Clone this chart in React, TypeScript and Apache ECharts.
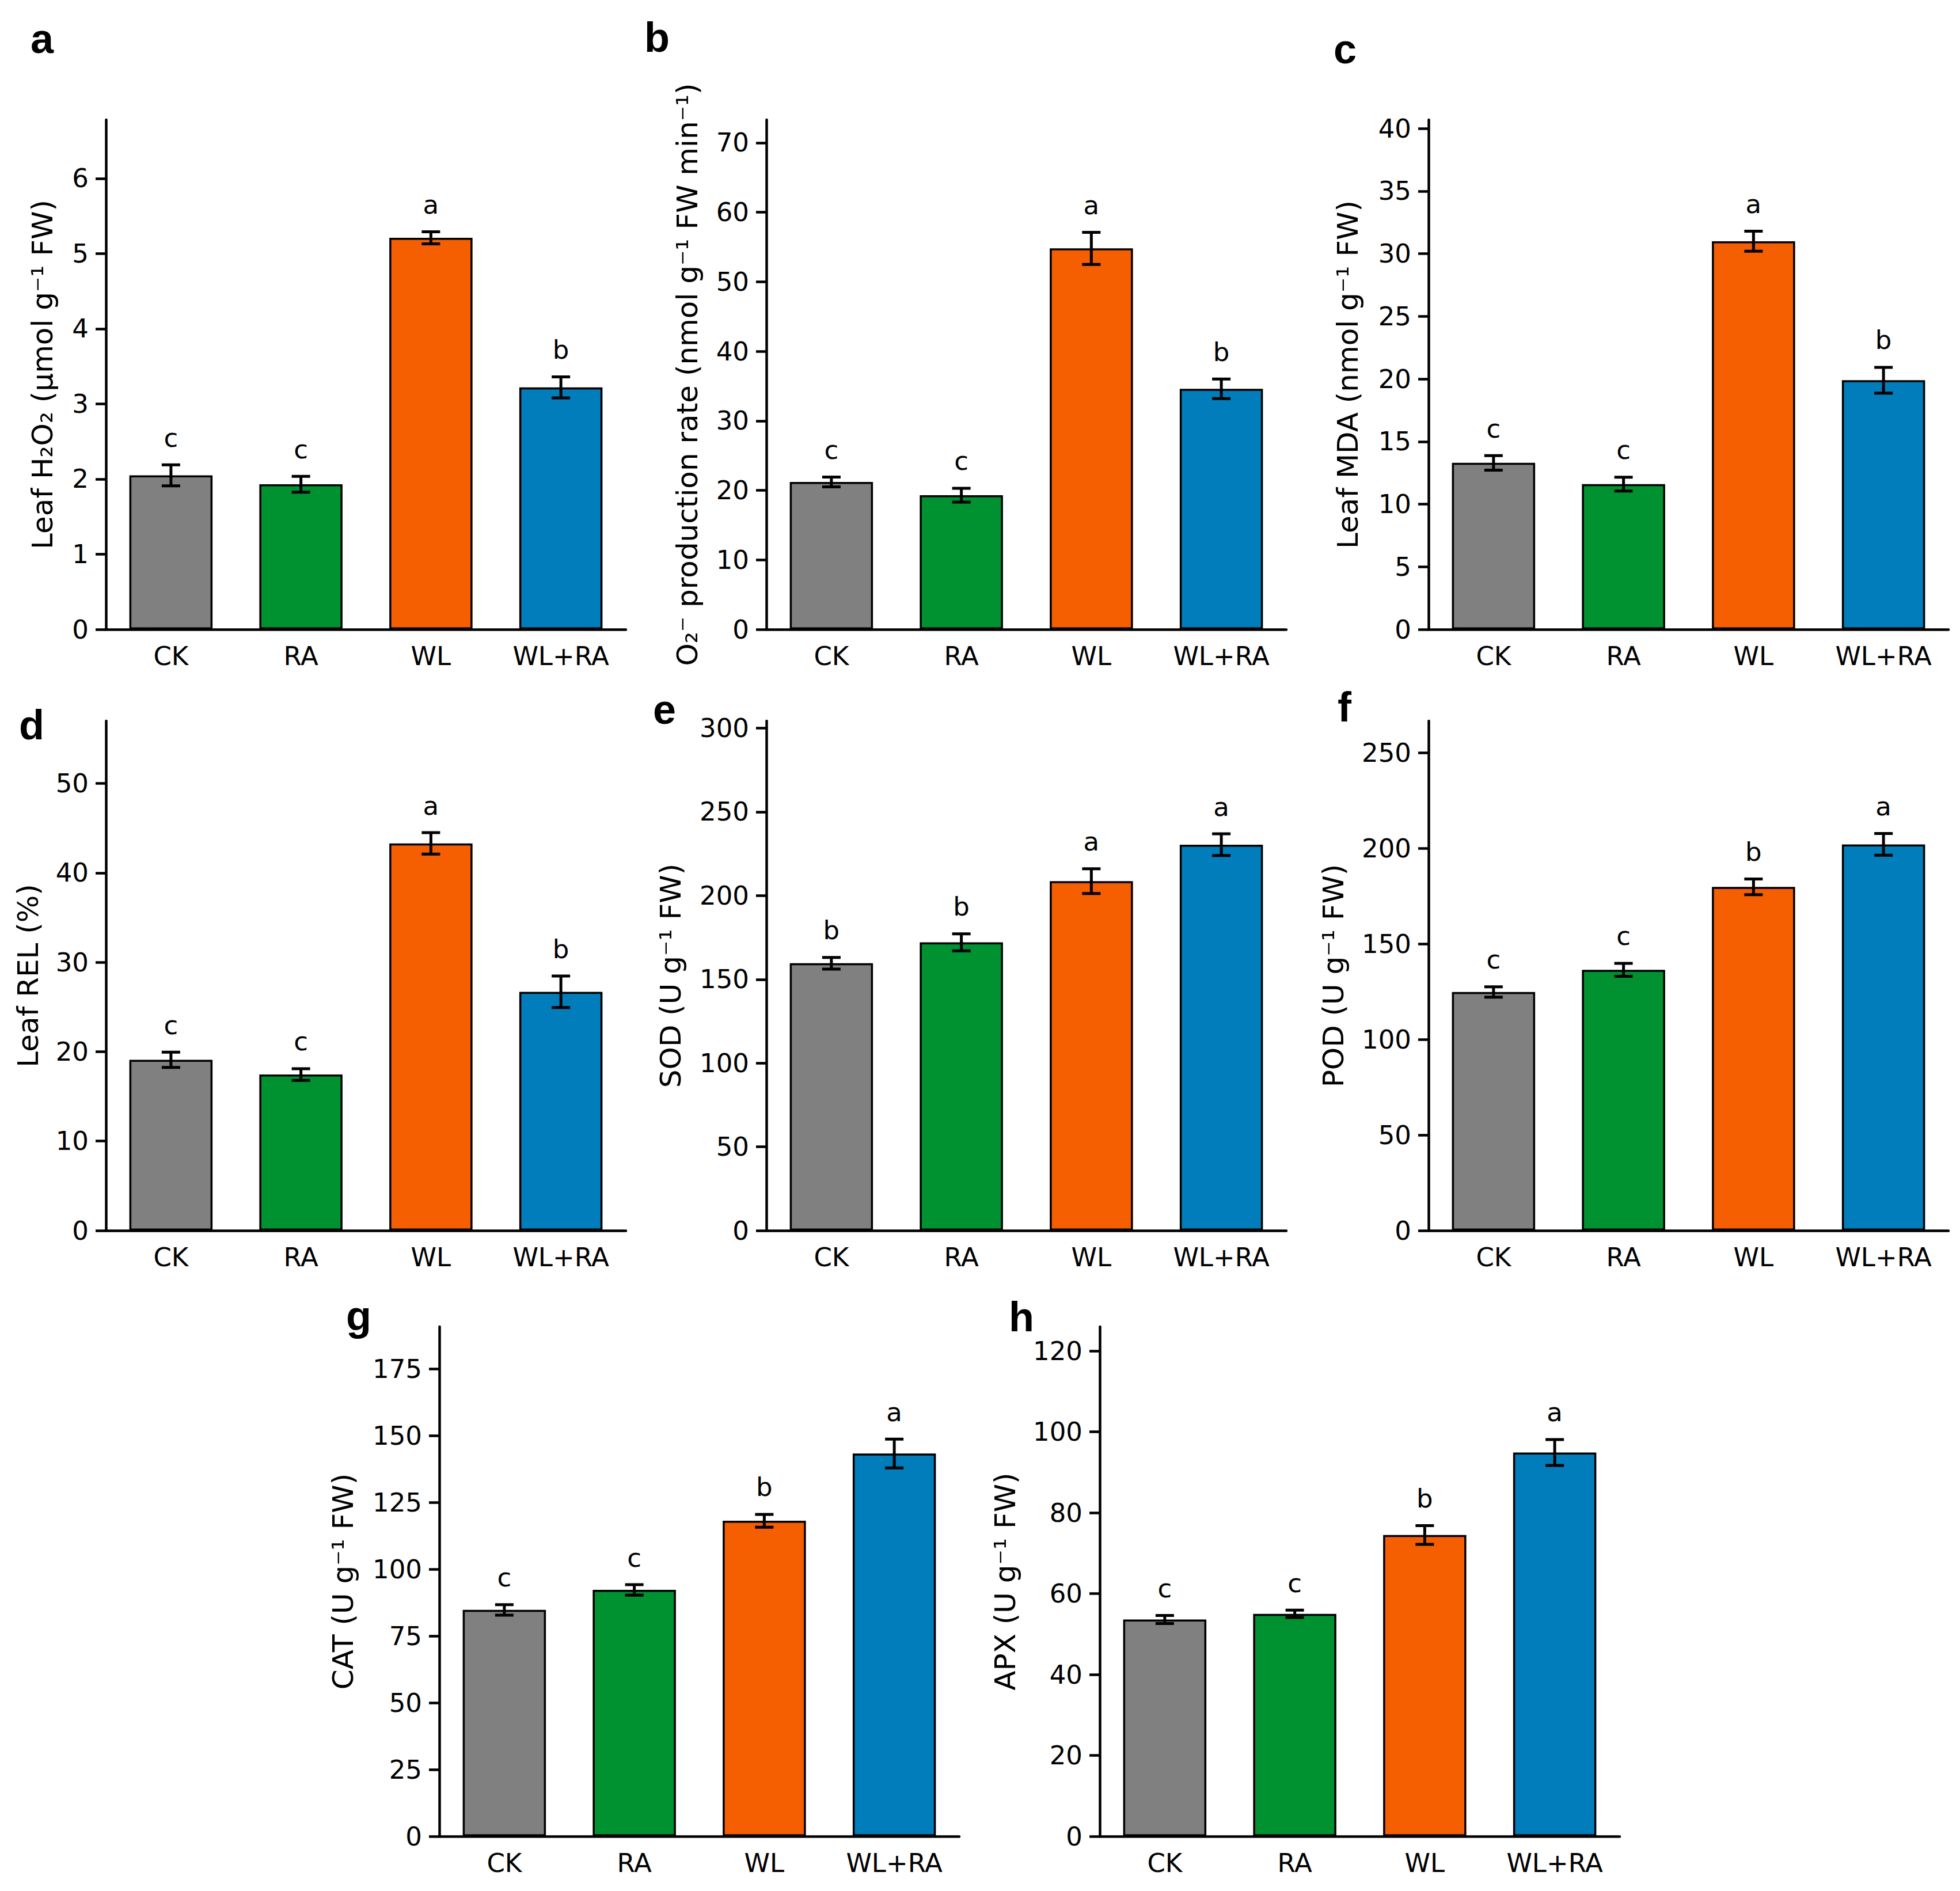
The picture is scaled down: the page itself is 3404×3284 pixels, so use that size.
import React, { useEffect, useRef } from "react";
import * as echarts from "echarts";

// ---------- data ----------
const categories = ["CK", "RA", "WL", "WL+RA"];
const barColors = ["#808080", "#009130", "#f65e02", "#007dba"];

const h2o2Mean = [2.05, 1.93, 5.21, 3.22];
const h2o2Err = [0.14, 0.105, 0.08, 0.14];
const h2o2Sig = ["c", "c", "a", "b"];
const h2o2Ticks = [0, 1, 2, 3, 4, 5, 6];

const o2Mean = [21.2, 19.3, 54.8, 34.6];
const o2Err = [0.7, 1.0, 2.3, 1.4];
const o2Sig = ["c", "c", "a", "b"];
const o2Ticks = [0, 10, 20, 30, 40, 50, 60, 70];

const mdaMean = [13.3, 11.6, 31.0, 19.9];
const mdaErr = [0.58, 0.55, 0.8, 1.03];
const mdaSig = ["c", "c", "a", "b"];
const mdaTicks = [0, 5, 10, 15, 20, 25, 30, 35, 40];

const relMean = [19.1, 17.45, 43.3, 26.7];
const relErr = [0.85, 0.65, 1.2, 1.76];
const relSig = ["c", "c", "a", "b"];
const relTicks = [0, 10, 20, 30, 40, 50];

const sodMean = [159.6, 172.1, 208.6, 230.4];
const sodErr = [3.5, 5.1, 7.4, 6.5];
const sodSig = ["b", "b", "a", "a"];
const sodTicks = [0, 50, 100, 150, 200, 250, 300];

const podMean = [124.8, 136.4, 179.8, 202.0];
const podErr = [2.7, 3.4, 4.1, 5.7];
const podSig = ["c", "c", "b", "a"];
const podTicks = [0, 50, 100, 150, 200, 250];

const catMean = [84.8, 92.3, 118.2, 143.4];
const catErr = [1.95, 1.95, 2.4, 5.4];
const catSig = ["c", "c", "b", "a"];
const catTicks = [0, 25, 50, 75, 100, 125, 150, 175];

const apxMean = [53.6, 55.0, 74.5, 94.9];
const apxErr = [1.0, 0.9, 2.3, 3.2];
const apxSig = ["c", "c", "b", "a"];
const apxTicks = [0, 20, 40, 60, 80, 100, 120];

const yMaxes = [6.78, 73.3, 40.7, 57.0, 304.3, 266.6, 190.9, 126.0];

const panelLetters = ["a", "b", "c", "d", "e", "f", "g", "h"];
const yTitles = [
  "Leaf H₂O₂ (μmol g⁻¹ FW)",
  "O₂⁻ production rate (nmol g⁻¹ FW min⁻¹)",
  "Leaf MDA (nmol g⁻¹ FW)",
  "Leaf REL (%)",
  "SOD (U g⁻¹ FW)",
  "POD (U g⁻¹ FW)",
  "CAT (U g⁻¹ FW)",
  "APX (U g⁻¹ FW)",
];

const means = [h2o2Mean, o2Mean, mdaMean, relMean, sodMean, podMean, catMean, apxMean];
const errs = [h2o2Err, o2Err, mdaErr, relErr, sodErr, podErr, catErr, apxErr];
const sigs = [h2o2Sig, o2Sig, mdaSig, relSig, sodSig, podSig, catSig, apxSig];
const ticks = [h2o2Ticks, o2Ticks, mdaTicks, relTicks, sodTicks, podTicks, catTicks, apxTicks];

// ---------- layout ----------
const W = 3404;
const H = 3284;
const gridLeft = [184, 1331, 2481, 184, 1331, 2481, 763, 1910];
const gridTop = [208, 208, 208, 1252, 1252, 1252, 2304, 2304];
const gridW = 903;
const gridH = 885;
const nameGaps = [85, 112, 115, 110, 141, 140, 142, 139];
const letterPos = [
  [53, 92], [1119, 90], [2316, 110],
  [33, 1284], [1134, 1257], [2323, 1253],
  [601, 2310], [1752, 2312],
];

const FONT = "DejaVu Sans";
const AXIS_W = 4.5;

function buildOption() {
  const grid: any[] = [];
  const xAxis: any[] = [];
  const yAxis: any[] = [];
  const series: any[] = [];
  const graphic: any[] = [];

  for (let p = 0; p < 8; p++) {
    grid.push({ left: gridLeft[p], top: gridTop[p], width: gridW, height: gridH, containLabel: false });
    xAxis.push({
      type: "category",
      gridIndex: p,
      data: categories,
      axisLine: { lineStyle: { color: "#000", width: AXIS_W } },
      axisTick: { alignWithLabel: true, length: 18, lineStyle: { color: "#000", width: AXIS_W } },
      axisLabel: { color: "#000", fontSize: 45, fontFamily: FONT, margin: 24 },
      splitLine: { show: false },
    });
    yAxis.push({
      type: "value",
      gridIndex: p,
      min: 0,
      max: yMaxes[p],
      name: yTitles[p],
      nameLocation: "middle",
      nameGap: nameGaps[p],
      nameTextStyle: { color: "#000", fontSize: 50, fontFamily: FONT },
      axisLine: { show: true, lineStyle: { color: "#000", width: AXIS_W } },
      axisTick: { show: true, length: 18, customValues: ticks[p], lineStyle: { color: "#000", width: AXIS_W } },
      axisLabel: { color: "#000", fontSize: 45, fontFamily: FONT, margin: 30, customValues: ticks[p] },
      splitLine: { show: false },
    });
    series.push({
      type: "bar",
      xAxisIndex: p,
      yAxisIndex: p,
      barWidth: "64%",
      data: means[p].map((v, i) => ({
        value: v,
        itemStyle: { color: barColors[i], borderColor: "#000", borderWidth: 3.5 },
      })),
      silent: true,
    });
    series.push({
      type: "custom",
      xAxisIndex: p,
      yAxisIndex: p,
      silent: true,
      z: 5,
      data: means[p].map((v, i) => [i, v, errs[p][i], i]),
      renderItem: (params: any, api: any) => {
        const xi = api.value(0);
        const m = api.value(1);
        const e = api.value(2);
        const idx = api.value(3);
        const top = api.coord([xi, m + e]);
        const bot = api.coord([xi, m - e]);
        const cx = top[0];
        const st = { stroke: "#000", lineWidth: 5 };
        return {
          type: "group",
          children: [
            { type: "line", shape: { x1: cx, y1: top[1], x2: cx, y2: bot[1] }, style: st },
            { type: "line", shape: { x1: cx - 16, y1: top[1], x2: cx + 16, y2: top[1] }, style: st },
            { type: "line", shape: { x1: cx - 16, y1: bot[1], x2: cx + 16, y2: bot[1] }, style: st },
            {
              type: "text",
              x: cx,
              y: top[1] - 47,
              style: {
                text: sigs[p][idx],
                fill: "#000",
                font: `45px "${FONT}"`,
                textAlign: "center",
                textVerticalAlign: "middle",
              },
            },
          ],
        };
      },
    });
    graphic.push({
      type: "text",
      x: letterPos[p][0],
      y: letterPos[p][1] - 25,
      style: {
        text: panelLetters[p],
        fill: "#000",
        font: 'bold 72px "Liberation Sans"',
        textAlign: "left",
        textVerticalAlign: "middle",
      },
    });
  }

  return {
    animation: false,
    backgroundColor: "#fff",
    textStyle: { fontFamily: FONT },
    grid,
    xAxis,
    yAxis,
    series,
    graphic,
  };
}

export default function App() {
  const ref = useRef<HTMLDivElement>(null);
  useEffect(() => {
    if (!ref.current) return;
    const chart = echarts.init(ref.current, undefined, { renderer: "svg", width: W, height: H });
    chart.setOption(buildOption() as any);
    return () => chart.dispose();
  }, []);
  return (
    <div
      ref={ref}
      style={{ position: "absolute", left: 0, top: 0, width: W, height: H, background: "#fff" }}
    />
  );
}
